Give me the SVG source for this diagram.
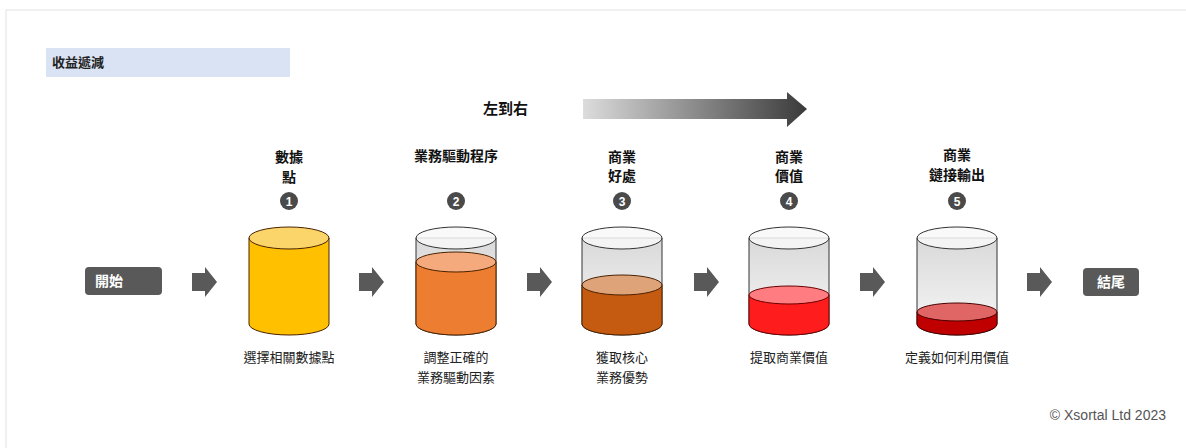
<svg xmlns="http://www.w3.org/2000/svg" width="1186" height="448" viewBox="0 0 1186 448">
<defs>
<linearGradient id="glass" x1="0" y1="0" x2="0" y2="1">
<stop offset="0" stop-color="#d9d9d9"/>
<stop offset="1" stop-color="#f7f7f7"/>
</linearGradient>
<linearGradient id="bigArrow" x1="0" y1="0" x2="1" y2="0">
<stop offset="0" stop-color="#dcdcdc"/>
<stop offset="1" stop-color="#3a3a3a"/>
</linearGradient>
<path id="blk" d="M0,-9 H13 V-15 L25,0 L13,15 V9 H0 Z"/>
</defs>
<style>
.cjk{font-family:"Noto Sans CJK TC","Noto Sans CJK SC",sans-serif;}
.top{font-size:14px;font-weight:bold;fill:#111;text-anchor:middle;}
.bot{font-size:13px;fill:#222;text-anchor:middle;}
.num{fill:#4a4a4a;}
.numt{font-family:"Liberation Sans",sans-serif;font-size:12px;font-weight:bold;fill:#fff;text-anchor:middle;}
.glass{fill:url(#glass);stroke:#333;stroke-width:1;}
.rim{fill:#f8f8f8;fill-opacity:0.85;stroke:#333;stroke-width:1;}
.liq{stroke:#4a2200;stroke-width:1;}
.box{fill:#595959;}
.boxt{font-size:14px;font-weight:bold;fill:#fff;}
.conn{fill:#595959;}
</style>
<rect x="6" y="10" width="1200" height="460" fill="#fff" stroke="#ebebeb" stroke-width="1.5"/>
<g id="title">
<rect x="46" y="48" width="244" height="29" fill="#dae3f3"/>
<text class="cjk" x="52" y="67" font-size="13" font-weight="bold" fill="#222">收益遞減</text>
</g>
<g id="direction">
<text class="cjk" x="483" y="114" font-size="15" font-weight="bold" fill="#111">左到右</text>
<path d="M583,99 H787 V92 L807,109 L787,127 V119 H583 Z" fill="url(#bigArrow)"/>
</g>
<g id="start">
<rect class="box" x="85" y="267" width="77" height="28" rx="4"/>
<text class="cjk boxt" x="95" y="286">開始</text>
</g>
<g id="end">
<rect class="box" x="1083" y="268" width="56" height="28" rx="4"/>
<text class="cjk boxt" x="1111" y="287" text-anchor="middle">結尾</text>
</g>
<g id="step1">
<text class="cjk top" x="289" y="162">數據</text>
<text class="cjk top" x="289" y="182">點</text>
<circle class="num" cx="289" cy="201" r="9"/>
<text class="numt" x="289" y="205.5">1</text>
<path d="M249,238 V324 A40,11 0 0 0 329,324 V238 Z" fill="#ffc000" class="liq"/>
<ellipse cx="289" cy="238" rx="40" ry="11" fill="#fcd56a" class="liq"/>
<text class="cjk bot" x="289" y="362">選擇相關數據點</text>
</g>
<g id="step2">
<text class="cjk top" x="456" y="161" font-size="15">業務驅動程序</text>
<circle class="num" cx="456" cy="201" r="9"/>
<text class="numt" x="456" y="205.5">2</text>
<path class="glass" d="M416,238 V324 A40,11 0 0 0 496,324 V238 Z"/>
<path d="M416,262 V324 A40,11 0 0 0 496,324 V262 Z" fill="#ed7d31" class="liq"/>
<ellipse cx="456" cy="262" rx="40" ry="10" fill="#f4aa7c" class="liq"/>
<ellipse class="rim" cx="456" cy="238" rx="40" ry="11"/>
<text class="cjk bot" x="456" y="362">調整正確的</text>
<text class="cjk bot" x="456" y="382">業務驅動因素</text>
</g>
<g id="step3">
<text class="cjk top" x="622" y="162">商業</text>
<text class="cjk top" x="622" y="181">好處</text>
<circle class="num" cx="622" cy="201" r="9"/>
<text class="numt" x="622" y="205.5">3</text>
<path class="glass" d="M582,238 V324 A40,11 0 0 0 662,324 V238 Z"/>
<path d="M582,285 V324 A40,11 0 0 0 662,324 V285 Z" fill="#c55a11" class="liq"/>
<ellipse cx="622" cy="285" rx="40" ry="10" fill="#dfa37a" class="liq"/>
<ellipse class="rim" cx="622" cy="238" rx="40" ry="11"/>
<text class="cjk bot" x="622" y="362">獲取核心</text>
<text class="cjk bot" x="622" y="382">業務優勢</text>
</g>
<g id="step4">
<text class="cjk top" x="789" y="162">商業</text>
<text class="cjk top" x="789" y="181">價值</text>
<circle class="num" cx="789" cy="201" r="9"/>
<text class="numt" x="789" y="205.5">4</text>
<path class="glass" d="M749,238 V324 A40,11 0 0 0 829,324 V238 Z"/>
<path d="M749,295 V324 A40,11 0 0 0 829,324 V295 Z" fill="#ff1c1c" stroke="#6a0000" stroke-width="1"/>
<ellipse cx="789" cy="295" rx="40" ry="9" fill="#ff7c80" stroke="#6a0000" stroke-width="1"/>
<ellipse class="rim" cx="789" cy="238" rx="40" ry="11"/>
<text class="cjk bot" x="789" y="362">提取商業價值</text>
</g>
<g id="step5">
<text class="cjk top" x="957" y="160">商業</text>
<text class="cjk top" x="957" y="180">鏈接輸出</text>
<circle class="num" cx="957" cy="201" r="9"/>
<text class="numt" x="957" y="205.5">5</text>
<path class="glass" d="M917,238 V324 A40,11 0 0 0 997,324 V238 Z"/>
<path d="M917,312 V324 A40,11 0 0 0 997,324 V312 Z" fill="#c00000" stroke="#4a0000" stroke-width="1"/>
<ellipse cx="957" cy="312" rx="40" ry="9" fill="#e06666" stroke="#4a0000" stroke-width="1"/>
<ellipse class="rim" cx="957" cy="238" rx="40" ry="11"/>
<text class="cjk bot" x="957" y="362">定義如何利用價值</text>
</g>
<g id="connectors">
<use href="#blk" class="conn" x="192" y="282"/>
<use href="#blk" class="conn" x="359" y="282"/>
<use href="#blk" class="conn" x="527" y="282"/>
<use href="#blk" class="conn" x="694" y="282"/>
<use href="#blk" class="conn" x="860" y="282"/>
<use href="#blk" class="conn" x="1027" y="282"/>
</g>
<text x="1166" y="420" font-family="Liberation Sans, Arial, sans-serif" font-size="14" fill="#555" text-anchor="end">© Xsortal Ltd 2023</text>
</svg>
